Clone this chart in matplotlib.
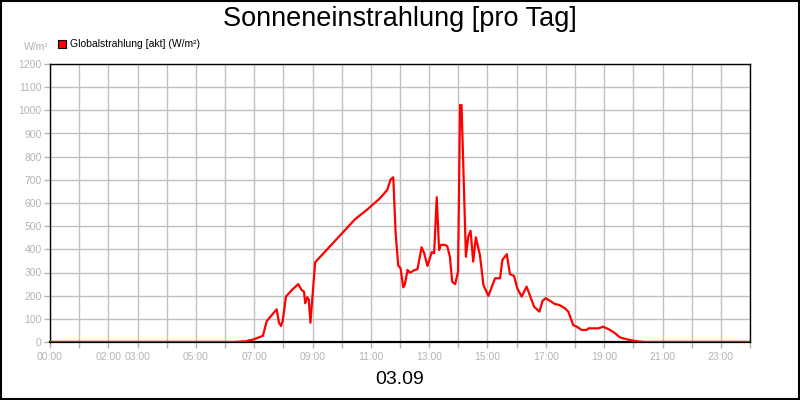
import numpy as np
import matplotlib.pyplot as plt
from matplotlib.patches import Rectangle

# Globalstrahlung (Stunde, W/m²)
stunden = [0, 6.3, 6.7, 7.0, 7.3, 7.43, 7.77, 7.85, 7.92, 7.98, 8.09, 8.29, 8.51,
           8.63, 8.71, 8.75, 8.82, 8.87, 8.93, 9.09, 10.46, 10.86, 11.31, 11.56,
           11.68, 11.77, 11.85, 11.94, 12.02, 12.11, 12.16, 12.26, 12.34, 12.51,
           12.6, 12.74, 12.83, 12.94, 13.09, 13.17, 13.26, 13.34, 13.4, 13.54,
           13.62, 13.71, 13.79, 13.89, 13.99, 14.06, 14.11, 14.26, 14.34, 14.42,
           14.51, 14.6, 14.74, 14.86, 15.03, 15.26, 15.43, 15.51, 15.66, 15.77,
           15.91, 16.02, 16.17, 16.34, 16.6, 16.78, 16.89, 17.0, 17.14, 17.31,
           17.46, 17.66, 17.77, 17.94, 18.06, 18.23, 18.4, 18.46, 18.8, 18.97,
           19.2, 19.37, 19.54, 19.77, 20.06, 20.4, 24]
strahlung = [0, 0, 3, 12, 27, 90, 141, 83, 69, 92, 196, 224, 250,
             224, 217, 167, 193, 184, 83, 344, 530, 570, 620, 656,
             702, 711, 470, 330, 318, 236, 246, 311, 299, 311,
             314, 409, 383, 328, 388, 383, 625, 397, 419, 419,
             414, 368, 260, 250, 303, 1023, 1023, 368, 455, 480,
             347, 452, 375, 246, 199, 275, 275, 354, 379, 293,
             285, 232, 196, 239, 152, 131, 178, 189, 178, 164,
             160, 145, 131, 73, 66, 52, 52, 59, 59, 66,
             52, 38, 20, 12, 4, 0, 0]

tick_pos = [0, 2, 3, 5, 7, 9, 11, 13, 15, 17, 19, 21, 23]
tick_labels = ['00:00', '02:00', '03:00', '05:00', '07:00', '09:00', '11:00',
               '13:00', '15:00', '17:00', '19:00', '21:00', '23:00']

grau = '#b4b4b4'
plt.rcParams['font.family'] = ['Liberation Sans', 'DejaVu Sans']

fig = plt.figure(figsize=(8, 4), dpi=100)
ax = fig.add_axes([0.0625, 0.145, 0.875, 0.695])

ax.plot(stunden, strahlung, color='#ff0000', linewidth=1.6, zorder=3)

ax.set_xlim(0, 24)
ax.set_ylim(0, 1200)
ax.set_xticks(tick_pos)
ax.set_xticklabels(tick_labels)
ax.set_xticks(np.arange(0, 25, 1), minor=True)
ax.tick_params(axis='x', which='both', length=4, color=grau, width=1, pad=3,
               labelsize=7.5, labelcolor=grau)
ax.set_yticks(np.arange(0, 1201, 100))
ax.tick_params(axis='y', length=4, color=grau, width=1, labelsize=7.5, labelcolor=grau, pad=2)
ax.grid(True, which='both', color='#c0c0c0', linewidth=1)
ax.set_axisbelow(True)
for s in ax.spines.values():
    s.set_color('black')
    s.set_linewidth(1)
ax.spines['bottom'].set_linewidth(1.6)

fig.text(0.5, 0.952, 'Sonneneinstrahlung [pro Tag]', ha='center', va='center', fontsize=19.5)
fig.text(0.5, 0.05, '03.09', ha='center', va='center', fontsize=14)
fig.text(0.045, 0.882, 'W/m²', ha='center', va='center', fontsize=7.5, color=grau)
fig.patches.append(Rectangle((58 / 800, 1 - 48 / 400), 8 / 800, 8 / 400, transform=fig.transFigure,
                             facecolor='#ff0000', edgecolor='black', linewidth=0.8))
fig.text(70 / 800, 1 - 44 / 400, 'Globalstrahlung [akt] (W/m²)', ha='left', va='center', fontsize=7.5)

fig.patches.append(Rectangle((0.001, 0.002), 0.998, 0.996, transform=fig.transFigure,
                             fill=False, edgecolor='black', linewidth=1.5))

fig.savefig('out.png', dpi=100)
